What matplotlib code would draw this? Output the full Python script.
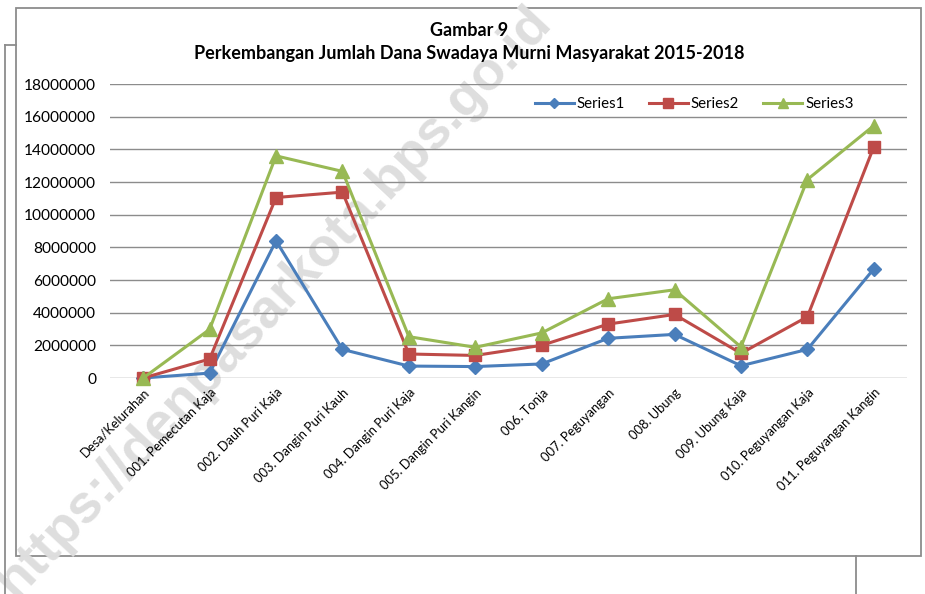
import matplotlib
matplotlib.use("Agg")
import matplotlib.pyplot as plt
from matplotlib.patches import Rectangle
from matplotlib.lines import Line2D

plt.rcParams["font.family"] = ["Lato", "DejaVu Sans"]

categories = [
    "Desa/Kelurahan", "001. Pemecutan Kaja", "002. Dauh Puri Kaja", "003. Dangin Puri Kauh",
    "004. Dangin Puri Kaja", "005. Dangin Puri Kangin", "006. Tonja", "007. Peguyangan",
    "008. Ubung", "009. Ubung Kaja", "010. Peguyangan Kaja", "011. Peguyangan Kangin",
]
series1 = [0, 300000, 8400000, 1750000, 730000, 700000, 860000, 2430000, 2670000, 750000, 1750000, 6680000]
series2 = [0, 1160000, 11050000, 11380000, 1470000, 1380000, 2000000, 3300000, 3890000, 1510000, 3750000, 14150000]
series3 = [0, 2980000, 13600000, 12650000, 2530000, 1880000, 2760000, 4850000, 5400000, 1900000, 12150000, 15450000]
yticks = list(range(0, 18000001, 2000000))

W, H = 925, 594
fig = plt.figure(figsize=(W / 100, H / 100), dpi=100)

def px_box(x0, y0, x1, y1):
    # pixel box (top-left origin) -> figure fraction
    return x0 / W, 1 - y1 / H, (x1 - x0) / W, (y1 - y0) / H

# frame lines
edge = "#8c8c8c"
fig.add_artist(Line2D([5 / W, 5 / W], [0, 1 - 45 / H], color=edge, lw=1.3, transform=fig.transFigure))
fig.add_artist(Line2D([5 / W, 16 / W], [1 - 45 / H, 1 - 45 / H], color=edge, lw=1.3, transform=fig.transFigure))
fig.add_artist(Line2D([856 / W, 856 / W], [0, 1 - 556 / H], color=edge, lw=1.3, transform=fig.transFigure))
bx, by, bw, bh = px_box(16, 8, 921, 556)
fig.add_artist(Rectangle((bx, by), bw, bh, transform=fig.transFigure, fill=True,
                         facecolor="white", edgecolor=edge, lw=1.3, zorder=-2))

# watermark
fig.text(274 / W, 1 - 302 / H, "https://denpasarkota.bps.go.id", rotation=47,
         ha="center", va="center", fontsize=39, fontweight="bold", color="#dedede",
         family="Liberation Sans", zorder=-1)

ax = fig.add_axes(px_box(110, 84, 907, 378))
ax.set_facecolor("none")

x = range(len(categories))
ax.plot(x, series1, color="#4A7EBB", lw=2.2, marker="D", ms=7, label="Series1", clip_on=False, zorder=4)
ax.plot(x, series2, color="#BE4B48", lw=2.2, marker="s", ms=9, label="Series2", clip_on=False, zorder=4)
ax.plot(x, series3, color="#98B954", lw=2.2, marker="^", ms=10, label="Series3", clip_on=False, zorder=4)

ax.set_xlim(-0.5, len(categories) - 0.5)
ax.set_ylim(0, 18000000)
ax.set_yticks(yticks)
ax.set_yticklabels([str(v) for v in yticks], fontsize=11.2)
ax.set_xticks(list(x))
ax.set_xticklabels(categories, rotation=45, ha="right", va="top", rotation_mode="anchor", fontsize=9.3)
ax.tick_params(axis="both", length=0)
ax.tick_params(axis="y", pad=10)
ax.tick_params(axis="x", pad=6)
ax.grid(axis="y", color="#8c8c8c", lw=1)
for s in ax.spines.values():
    s.set_visible(False)

ax.legend(loc="upper right", bbox_to_anchor=(0.95, 1.0), ncol=3, frameon=False, fontsize=10.8,
          handlelength=2.6, columnspacing=1.6, handletextpad=0.2, markerscale=0.75)

fig.text(469 / W, 1 - 31 / H, "Gambar 9", ha="center", va="center", fontsize=13, fontweight="bold")
fig.text(469 / W, 1 - 54 / H, "Perkembangan Jumlah Dana Swadaya Murni Masyarakat 2015-2018",
         ha="center", va="center", fontsize=13, fontweight="bold")

fig.savefig("out.png", dpi=100)
